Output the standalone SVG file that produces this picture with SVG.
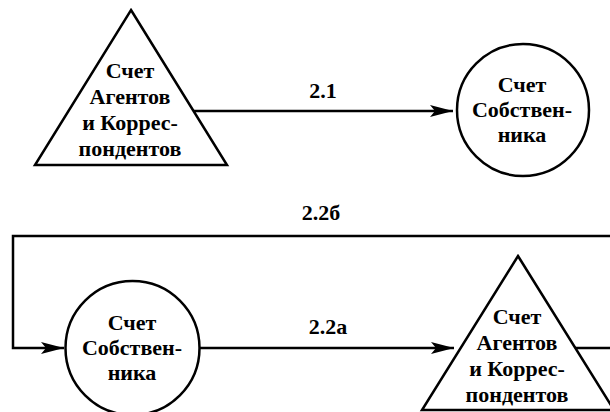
<svg xmlns="http://www.w3.org/2000/svg" width="610" height="412" viewBox="0 0 610 412">
<style>
.sh{fill:#fff;stroke:#000;stroke-width:2.5}
.ln{fill:none;stroke:#000;stroke-width:2.5}
</style>
<defs>
<marker id="ah" markerUnits="userSpaceOnUse" markerWidth="26" markerHeight="14" refX="24" refY="7" orient="auto">
<path d="M24,7 L1,1 L6,7 L1,13 Z" fill="#000"/>
</marker>
</defs>
<rect width="610" height="412" fill="#fff"/>
<g id="connectors">
<line class="ln" x1="193" y1="111" x2="453" y2="111" marker-end="url(#ah)"/>
<path class="ln" d="M575,348 H620 V236 H13 V348 H64" marker-end="url(#ah)"/>
<line class="ln" x1="200" y1="348" x2="454" y2="348" marker-end="url(#ah)"/>
<text x="323" y="98" style="font-family:'Times New Roman','Liberation Serif',serif;font-weight:bold;font-size:22px;text-anchor:middle">2.1</text>
<text x="321" y="220" style="font-family:'Times New Roman','Liberation Serif',serif;font-weight:bold;font-size:22px;text-anchor:middle">2.2б</text>
<text x="328" y="334" style="font-family:'Times New Roman','Liberation Serif',serif;font-weight:bold;font-size:22px;text-anchor:middle">2.2а</text>
</g>
<g id="agents1">
<polygon class="sh" points="131,10 227,165 35,165"/>
<text x="130" y="78" style="font-family:'Times New Roman','Liberation Serif',serif;font-weight:bold;font-size:22px;text-anchor:middle">Счет</text>
<text x="130" y="104" style="font-family:'Times New Roman','Liberation Serif',serif;font-weight:bold;font-size:22px;text-anchor:middle">Агентов</text>
<text x="130" y="130" style="font-family:'Times New Roman','Liberation Serif',serif;font-weight:bold;font-size:22px;text-anchor:middle">и Коррес-</text>
<text x="130" y="156" style="font-family:'Times New Roman','Liberation Serif',serif;font-weight:bold;font-size:22px;text-anchor:middle">пондентов</text>
</g>
<g id="owner1">
<circle class="sh" cx="523" cy="110" r="66"/>
<text x="522" y="92" style="font-family:'Times New Roman','Liberation Serif',serif;font-weight:bold;font-size:22px;text-anchor:middle">Счет</text>
<text x="522" y="117" style="font-family:'Times New Roman','Liberation Serif',serif;font-weight:bold;font-size:22px;text-anchor:middle">Собствен-</text>
<text x="522" y="142" style="font-family:'Times New Roman','Liberation Serif',serif;font-weight:bold;font-size:22px;text-anchor:middle">ника</text>
</g>
<g id="owner2">
<circle class="sh" cx="132.5" cy="348" r="67"/>
<text x="132" y="330" style="font-family:'Times New Roman','Liberation Serif',serif;font-weight:bold;font-size:22px;text-anchor:middle">Счет</text>
<text x="132" y="355" style="font-family:'Times New Roman','Liberation Serif',serif;font-weight:bold;font-size:22px;text-anchor:middle">Собствен-</text>
<text x="132" y="380" style="font-family:'Times New Roman','Liberation Serif',serif;font-weight:bold;font-size:22px;text-anchor:middle">ника</text>
</g>
<g id="agents2">
<polygon class="sh" points="518,256 614,410 422,410"/>
<text x="517" y="324" style="font-family:'Times New Roman','Liberation Serif',serif;font-weight:bold;font-size:22px;text-anchor:middle">Счет</text>
<text x="517" y="350" style="font-family:'Times New Roman','Liberation Serif',serif;font-weight:bold;font-size:22px;text-anchor:middle">Агентов</text>
<text x="517" y="376" style="font-family:'Times New Roman','Liberation Serif',serif;font-weight:bold;font-size:22px;text-anchor:middle">и Коррес-</text>
<text x="517" y="402" style="font-family:'Times New Roman','Liberation Serif',serif;font-weight:bold;font-size:22px;text-anchor:middle">пондентов</text>
</g>
</svg>
